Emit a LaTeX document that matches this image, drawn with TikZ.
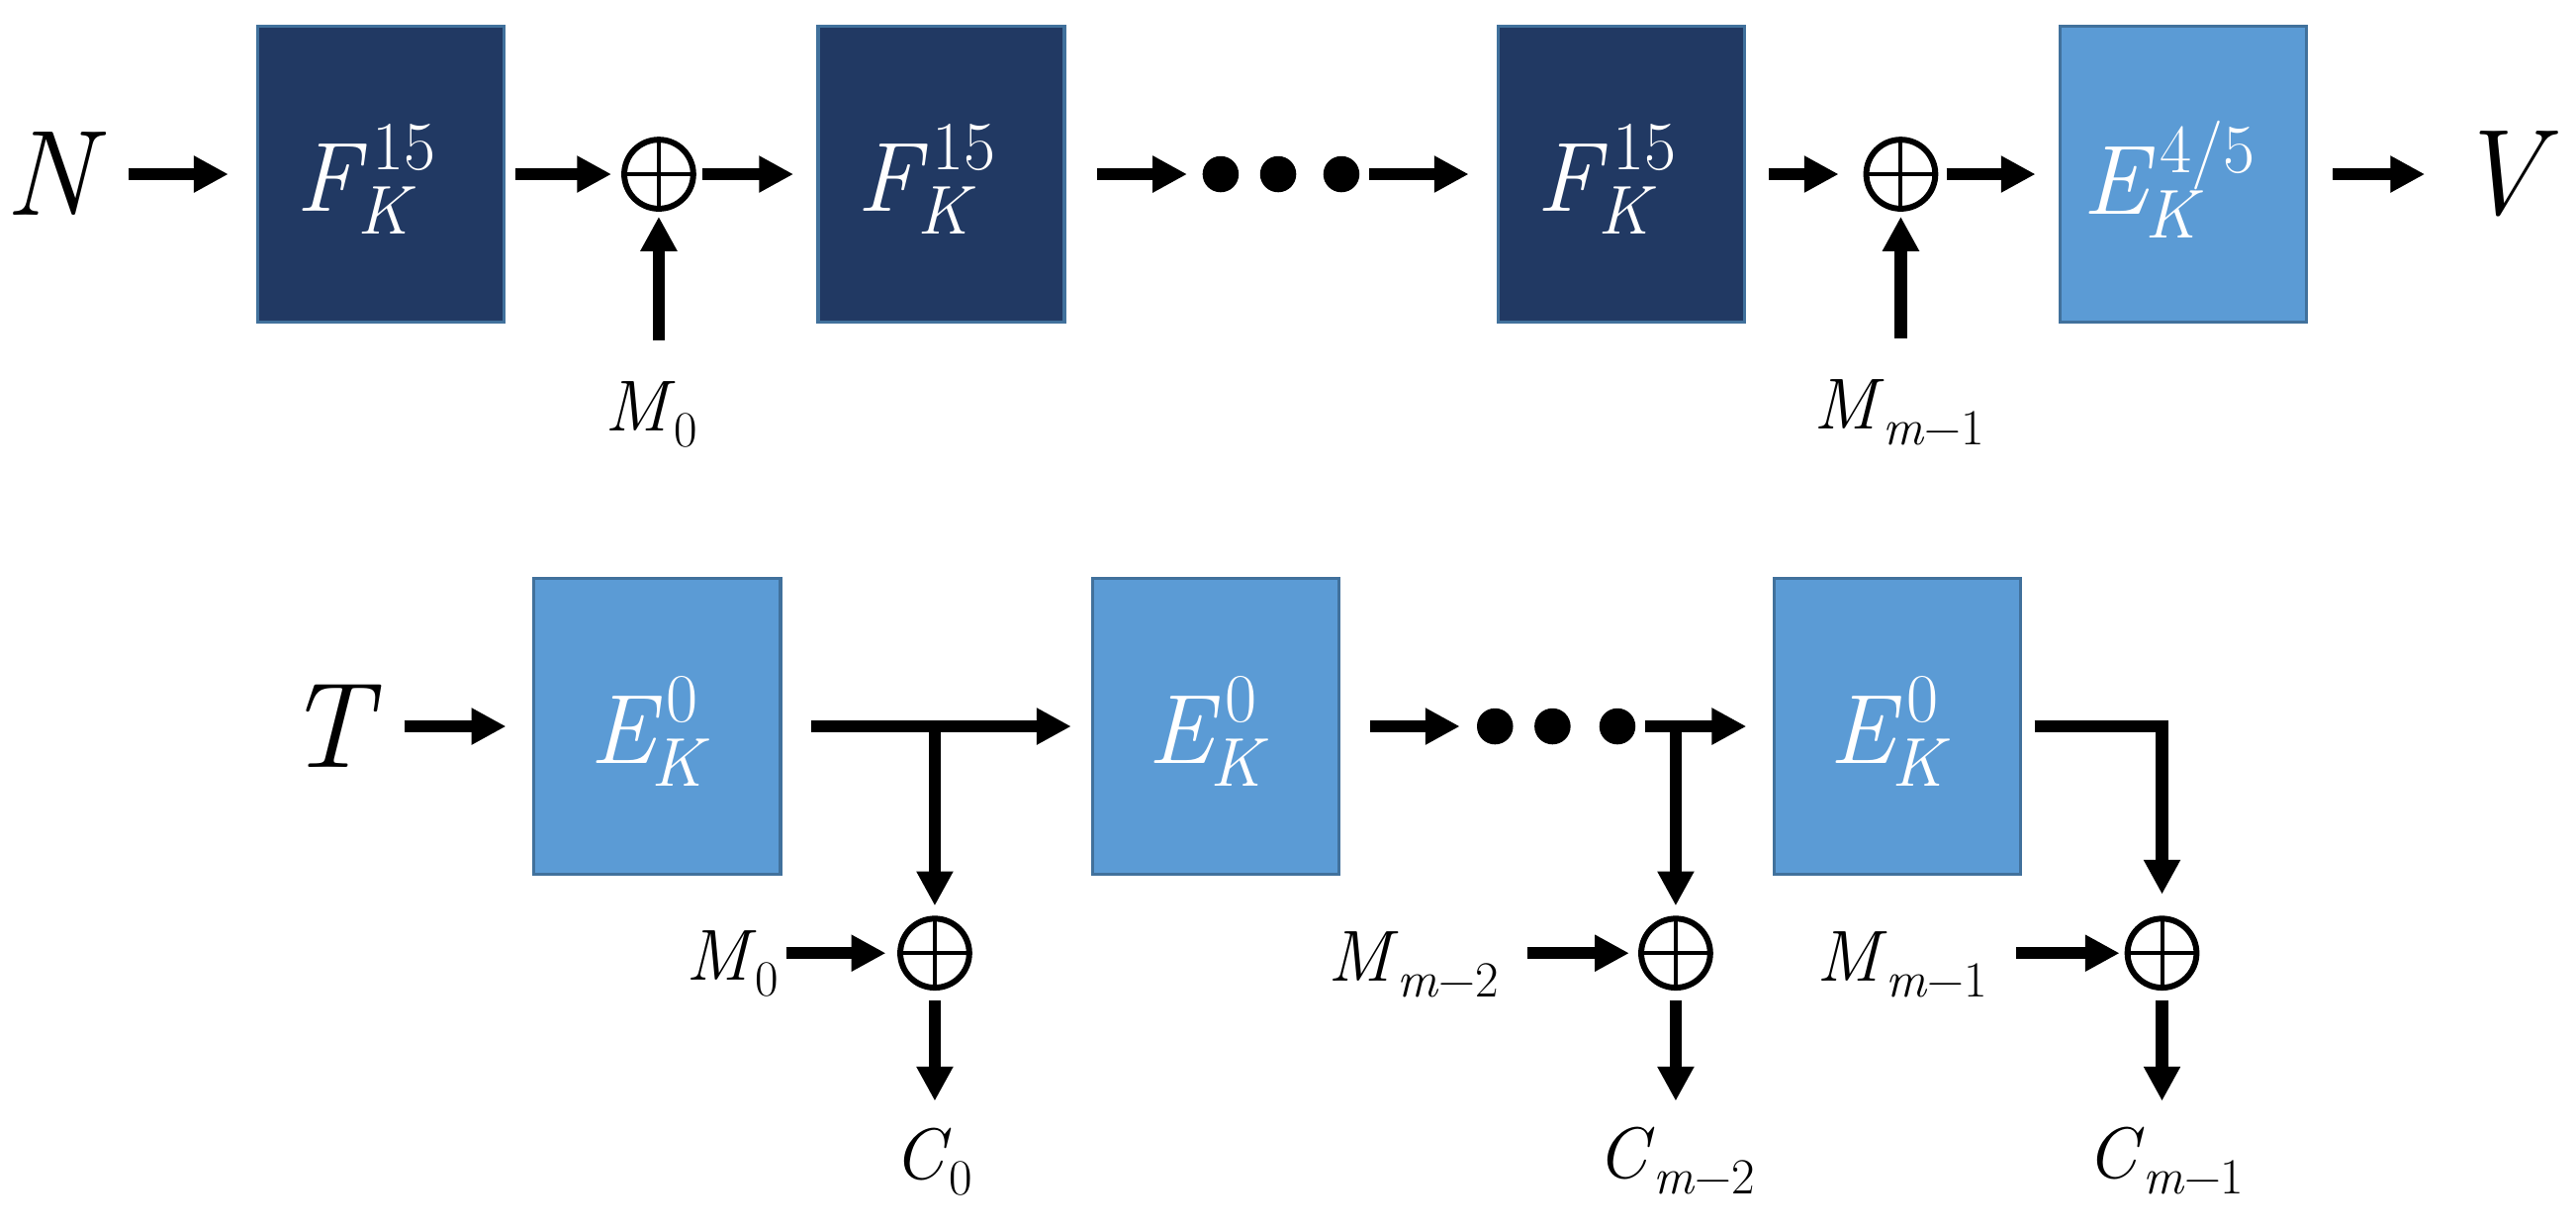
\documentclass[tikz,border=0pt]{standalone}
\usetikzlibrary{arrows.meta}
\definecolor{navy}{HTML}{213963}
\definecolor{lblue}{HTML}{5B9BD5}
\definecolor{edge}{HTML}{41719C}
\makeatletter
\newcommand{\scr}[1]{{\fontsize{\strip@pt\dimexpr0.7\dimexpr\f@size pt\relax\relax}{0}\selectfont #1}}
\makeatother
% base with superscript and subscript
\newcommand{\Sp}[3]{\textit{#1}\makebox[0pt][l]{\raisebox{0.42em}{\kern0.05em\scr{#2}}}\makebox[0pt][l]{\raisebox{-0.24em}{\kern-0.1em\scr{#3}}}\hphantom{\kern0.05em\scr{#2}}}
% base with subscript
\newcommand{\Sb}[2]{\textit{#1}\raisebox{-0.22em}{\kern-0.02em\scr{#2}}}
\begin{document}
\begin{tikzpicture}[x=0.5pt,y=-0.5pt,
  arr/.style={line width=3.7pt,-{Triangle[length=10.5pt,width=10.5pt]}},
  dbox/.style={draw=edge,fill=navy,line width=1pt,minimum width=75pt,minimum height=90pt,inner sep=0pt},
  lbox/.style={dbox,fill=lblue},
  blbl/.style={text=white,font=\fontsize{30}{32}\selectfont,inner sep=0pt},
  big/.style={font=\fontsize{37}{40}\selectfont,inner sep=0pt},
  lbl/.style={font=\fontsize{22}{24}\selectfont,inner sep=0pt,anchor=base},
  xor/.style={circle,draw,line width=1.8pt,minimum size=21pt,inner sep=0pt,
    path picture={\draw[line width=1.2pt] (path picture bounding box.north) -- (path picture bounding box.south)
      (path picture bounding box.west) -- (path picture bounding box.east);}},
  dot/.style={circle,fill,inner sep=0pt,minimum size=11pt}]
\useasboundingbox (0,0) rectangle (1568,748.5);
% ---------- top row ----------
\node[big] (N) at (34,106) {\textit{N}};
\node[dbox] (b1) at (231.8,106) {};
\node[blbl] (b1t) at ([xshift=-4.5pt,yshift=-1.5pt]b1.center) {\Sp{F}{15}{\textit{K}}};
\node[xor] (x1) at (401,106) {};
\node[dbox] (b2) at (573,106) {};
\node[blbl] (b2t) at ([xshift=-4.5pt,yshift=-1.5pt]b2.center) {\Sp{F}{15}{\textit{K}}};
\node[dot] (d1) at (743,106) {};
\node[dot] (d2) at (778,106) {};
\node[dot] (d3) at (816.5,106) {};
\node[dbox] (b3) at (987,106) {};
\node[blbl] (b3t) at ([xshift=-4.5pt,yshift=-1.5pt]b3.center) {\Sp{F}{15}{\textit{K}}};
\node[xor] (x2) at (1157,106) {};
\node[lbox] (b4) at (1329,106) {};
\node[blbl] (b4t) at ([xshift=-4.5pt,yshift=-1.5pt]b4.center) {\Sp{E}{4/5}{\textit{K}}};
\node[big] (V) at (1526,106) {\textit{V}};
\node[lbl] (m0) at (396.5,262) {\Sb{M}{0}};
\node[lbl] (mm1) at (1156,261) {\Sb{M}{\textit{m}−1}};
\coordinate (m0s) at (401,207);
\coordinate (mm1s) at (1157,206);

\draw[arr] ([xshift=22pt]N.center) -- ([xshift=-8.4pt]b1.west);
\draw[arr] ([xshift=3pt]b1.east) -- ([xshift=-3pt]x1.west);
\draw[arr] ([xshift=2pt]x1.east) -- ([xshift=-7pt]b2.west);
\draw[arr] ([xshift=9.5pt]b2.east) -- ([xshift=-4.5pt]d1.west);
\draw[arr] ([xshift=2.7pt]d3.east) -- ([xshift=-8.5pt]b3.west);
\draw[arr] ([xshift=6.8pt]b3.east) -- ([xshift=-7.5pt]x2.west);
\draw[arr] ([xshift=2.5pt]x2.east) -- ([xshift=-7pt]b4.west);
\draw[arr] ([xshift=7.5pt]b4.east) -- ([xshift=-25pt]V.center);
\draw[arr] (m0s) -- ([yshift=-1.5pt]x1.south);
\draw[arr] (mm1s) -- ([yshift=-1.5pt]x2.south);

% ---------- bottom row ----------
\node[big] (T) at (203,442) {\textit{T}};
\node[lbox] (c1) at (400,442) {};
\node[blbl] (c1t) at ([xshift=-4pt,yshift=-1.5pt]c1.center) {\Sp{E}{0}{\textit{K}}};
\node[lbox] (c2) at (740,442) {};
\node[blbl] (c2t) at ([xshift=-4pt,yshift=-1.5pt]c2.center) {\Sp{E}{0}{\textit{K}}};
\node[lbox] (c3) at (1155,442) {};
\node[blbl] (c3t) at ([xshift=-4pt,yshift=-1.5pt]c3.center) {\Sp{E}{0}{\textit{K}}};
\node[dot] (e1) at (910,442) {};
\node[dot] (e2) at (945,442) {};
\node[dot] (e3) at (984.5,442) {};
\node[xor] (y1) at (569,580) {};
\node[xor] (y2) at (1020,580) {};
\node[xor] (y3) at (1316,580) {};
\coordinate (j1) at (569,442);
\coordinate (j2) at (1020,442);
\node[lbl] (n0) at (446,596.5) {\Sb{M}{0}};
\node[lbl] (nm2) at (860.5,597) {\Sb{M}{\textit{m}−2}};
\node[lbl] (nm1) at (1158,597) {\Sb{M}{\textit{m}−1}};
\coordinate (n0s) at (478.5,580);
\coordinate (nm2s) at (929.6,580);
\coordinate (nm1s) at (1227,580);
\node[lbl] (k0) at (568,717.5) {\Sb{C}{0}};
\node[lbl] (km2) at (1020,717) {\Sb{C}{\textit{m}−2}};
\node[lbl] (km1) at (1318,717) {\Sb{C}{\textit{m}−1}};
\coordinate (k0e) at (569,670);
\coordinate (km2e) at (1020,670);
\coordinate (km1e) at (1316,670);

\draw[arr] ([xshift=21.5pt]T.center) -- ([xshift=-8pt]c1.west);
\draw[arr] ([xshift=9pt]c1.east) -- ([xshift=-6pt]c2.west);
\draw[arr] (j1) -- ([yshift=3pt]y1.north);
\draw[arr] (n0s) -- ([xshift=-3.5pt]y1.west);
\draw[arr] ([yshift=-3pt]y1.south) -- (k0e);
\draw[arr] ([xshift=9pt]c2.east) -- ([xshift=-5pt]e1.west);
\draw[arr] ([xshift=2.75pt]e3.east) -- ([xshift=-8pt]c3.west);
\draw[arr] (j2) -- ([yshift=3pt]y2.north);
\draw[arr] (nm2s) -- ([xshift=-2.75pt]y2.west);
\draw[arr] ([yshift=-3pt]y2.south) -- (km2e);
\draw[arr] ([xshift=3.7pt]c3.east) -| ([yshift=6.5pt]y3.north);
\draw[arr] (nm1s) -- ([xshift=-1.5pt]y3.west);
\draw[arr] ([yshift=-3pt]y3.south) -- (km1e);
\end{tikzpicture}
\end{document}
